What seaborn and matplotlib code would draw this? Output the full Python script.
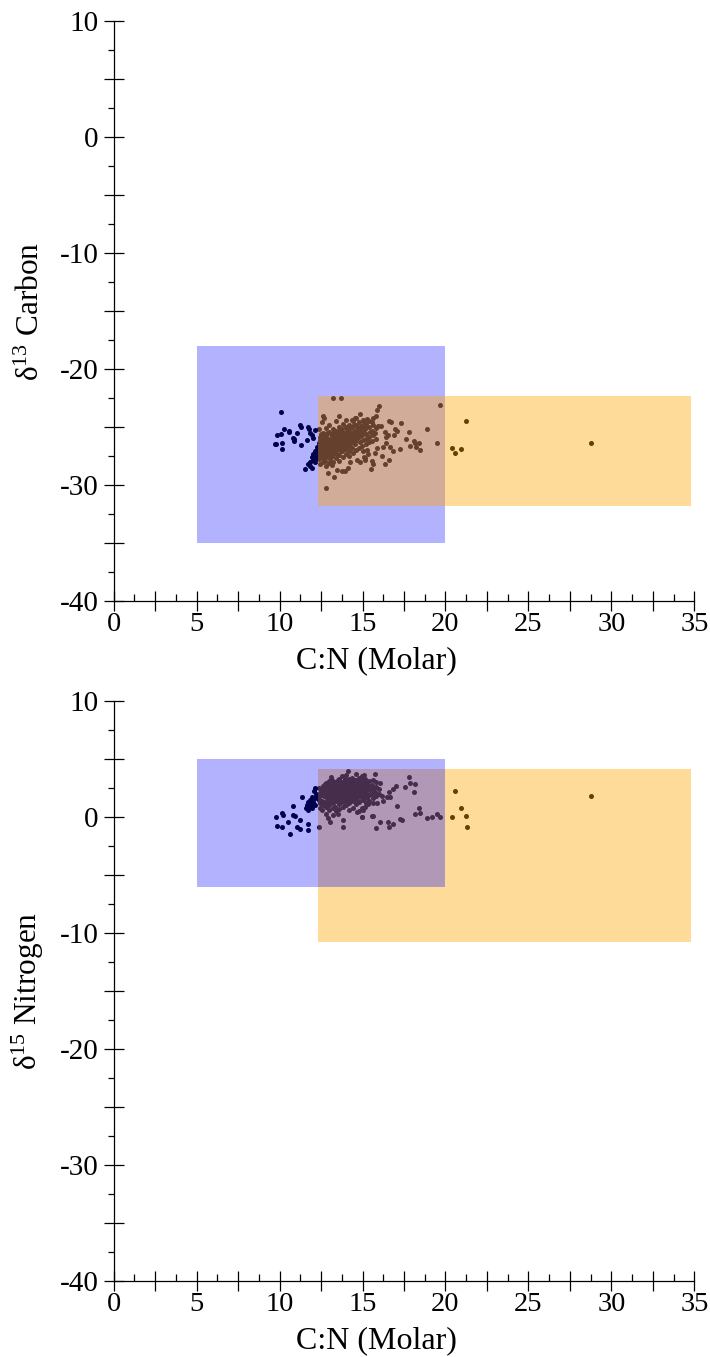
import matplotlib
matplotlib.use("Agg")
import matplotlib.pyplot as plt
from matplotlib.patches import Rectangle
from matplotlib.ticker import MultipleLocator, FuncFormatter
import seaborn as sns

# ---------------- data ----------------
# C:N ratio and d13C for every sample (upper panel)
cn_c = [
    # low C:N group
    10.09, 10.27, 9.86, 10.10, 10.55, 10.80, 10.87, 10.90, 11.07, 11.23, 11.27, 9.78,
    10.14, 10.12, 11.31, 11.69, 11.79, 11.63, 11.83, 11.97, 12.13, 12.03, 12.03, 12.13,
    12.19, 11.93, 11.83, 12.03, 11.73, 11.83, 11.93, 11.53, 12.13, 12.23, 12.23, 12.23,
    10.60, 9.72,
    # scattered samples
    13.20, 13.72, 13.58, 12.63, 12.69, 14.84, 14.34, 14.54, 15.25, 12.81, 13.30, 12.93,
    13.14, 13.44, 13.74, 13.94, 14.14, 14.24, 14.64, 14.84, 15.14, 15.34, 15.25,
    16.00, 15.89, 15.79, 15.65, 15.55, 16.61, 16.69, 17.33, 16.09, 15.95, 16.95, 17.09,
    16.35, 16.41, 17.81, 18.90, 16.87, 16.55, 17.60, 18.10, 18.16, 18.42, 17.86, 19.46,
    18.22, 18.46, 17.25, 16.85, 16.65, 16.25, 16.41, 15.85, 15.75, 16.15, 16.57, 16.35,
    15.55, 15.61, 15.51, 15.14, 15.08, 19.70, 21.23, 20.39, 20.59, 20.93, 28.78,
    # main cluster
    12.38, 12.42, 12.36, 12.45, 12.40, 12.37, 12.44, 12.41, 12.39,
    12.58, 12.62, 12.60, 12.55, 12.64, 12.59, 12.61, 12.57, 12.63,
    12.79, 12.83, 12.77, 12.81, 12.84, 12.78, 12.80, 12.82, 12.76,
    13.01, 12.97, 13.03, 12.99, 13.02, 12.98, 13.04, 13.00, 12.96,
    13.21, 13.18, 13.23, 13.19, 13.22, 13.17, 13.20, 13.24, 13.16,
    13.41, 13.38, 13.43, 13.39, 13.42, 13.37, 13.40, 13.44, 13.36,
    13.61, 13.58, 13.63, 13.59, 13.62, 13.57, 13.60, 13.64, 13.56,
    13.81, 13.78, 13.83, 13.79, 13.82, 13.77, 13.80, 13.84, 13.76,
    14.01, 13.98, 14.03, 13.99, 14.02, 13.97, 14.00, 14.04, 13.96,
    14.21, 14.18, 14.23, 14.19, 14.22, 14.17, 14.20, 14.24, 14.16,
    14.41, 14.38, 14.43, 14.39, 14.42, 14.37, 14.40, 14.44, 14.36,
    14.61, 14.58, 14.63, 14.59, 14.62, 14.57, 14.60, 14.64,
    14.81, 14.78, 14.83, 14.79, 14.82, 14.77, 14.80,
    15.01, 14.98, 15.03, 14.99, 15.02, 14.97, 15.00,
    15.21, 15.18, 15.23, 15.19, 15.22, 15.17,
    15.41, 15.38, 15.43, 15.39, 15.42,
    15.61, 15.58, 15.63, 15.59,
    15.81, 15.78, 15.83,
    12.48, 12.47, 12.49, 12.46, 12.50,
    12.68, 12.67, 12.69, 12.66, 12.70,
    12.88, 12.87, 12.89, 12.86, 12.90,
    13.08, 13.07, 13.09, 13.06, 13.10,
    13.28, 13.27, 13.29, 13.26, 13.30,
    13.48, 13.47, 13.49, 13.46, 13.50,
    13.68, 13.67, 13.69, 13.66, 13.70,
    13.88, 13.87, 13.89, 13.86,
    14.08, 14.07, 14.09, 14.06,
    14.28, 14.27, 14.29, 14.26,
    14.48, 14.47, 14.49, 14.46,
    14.68, 14.67, 14.69,
    14.88, 14.87, 14.89,
    15.08, 15.07, 15.09,
]
d13c = [
    -23.7, -25.2, -25.7, -25.6, -25.4, -25.95, -26.0, -26.2, -25.55, -24.8, -25.0, -26.5,
    -26.35, -26.9, -26.55, -25.0, -25.2, -26.1, -25.55, -25.7, -25.25, -25.95, -27.3, -27.1,
    -27.4, -27.55, -28.0, -27.85, -28.15, -28.4, -28.55, -28.6, -28.0, -27.7, -27.0, -26.7,
    -25.3, -26.5,
    -22.5, -22.5, -24.05, -24.05, -24.25, -23.9, -24.4, -24.25, -24.35, -30.3, -29.35, -29.0,
    -28.3, -28.7, -28.75, -28.75, -28.55, -28.0, -27.85, -28.0, -27.7, -27.3, -27.0,
    -23.15, -23.55, -24.05, -24.25, -24.55, -24.5, -24.6, -24.65, -24.9, -24.95, -25.2, -25.3,
    -25.45, -25.85, -25.45, -25.2, -25.7, -25.7, -26.05, -26.2, -26.4, -26.35, -26.6, -26.4,
    -26.7, -27.0, -26.9, -27.05, -26.75, -26.7, -26.35, -26.85, -27.25, -27.5, -27.85, -28.15,
    -27.9, -28.2, -28.65, -27.85, -27.55, -23.1, -24.5, -26.85, -27.2, -26.9, -26.4,
    -25.2, -25.9, -26.4, -26.9, -27.3, -27.8, -28.2, -26.1, -27.0,
    -24.6, -25.5, -26.0, -26.6, -27.1, -27.5, -28.0, -26.3, -27.7,
    -25.1, -25.8, -26.2, -26.8, -27.2, -27.6, -28.4, -26.5, -27.9,
    -24.8, -25.4, -26.0, -26.4, -26.9, -27.3, -27.8, -26.7, -28.1,
    -25.2, -25.7, -26.2, -26.6, -27.0, -27.5, -28.0, -26.4, -27.3,
    -24.5, -25.3, -25.9, -26.3, -26.8, -27.2, -27.7, -26.1, -27.0,
    -25.0, -25.6, -26.0, -26.5, -26.9, -27.4, -27.9, -26.3, -25.3,
    -24.7, -25.2, -25.8, -26.2, -26.7, -27.1, -27.6, -26.0, -26.4,
    -24.4, -25.0, -25.5, -26.0, -26.4, -26.9, -27.3, -25.7, -26.6,
    -24.8, -25.3, -25.8, -26.2, -26.6, -27.1, -27.5, -26.0, -25.5,
    -24.5, -25.0, -25.5, -25.9, -26.3, -26.8, -27.2, -25.7, -26.1,
    -24.2, -24.8, -25.3, -25.7, -26.1, -26.5, -27.0, -25.5,
    -24.6, -25.1, -25.5, -25.9, -26.3, -26.8, -25.2,
    -24.4, -24.9, -25.3, -25.7, -26.1, -26.6, -27.1,
    -24.7, -25.2, -25.6, -26.0, -26.5, -25.0,
    -24.5, -25.0, -25.4, -25.9, -26.3,
    -24.8, -25.3, -25.7, -26.2,
    -25.1, -25.5, -26.0,
    -25.6, -26.2, -26.7, -27.1, -27.6,
    -25.8, -26.4, -26.9, -27.3, -27.9,
    -25.5, -26.0, -26.6, -27.0, -27.4,
    -25.6, -26.2, -26.6, -27.1, -27.6,
    -25.4, -25.9, -26.4, -26.8, -27.2,
    -25.6, -26.1, -26.5, -27.0, -27.4,
    -25.3, -25.8, -26.2, -26.7, -27.1,
    -25.5, -25.9, -26.4, -26.9,
    -25.2, -25.7, -26.2, -26.7,
    -25.0, -25.5, -26.0, -26.4,
    -24.8, -25.3, -25.8, -26.2,
    -25.0, -25.4, -25.9,
    -24.9, -25.3, -25.7,
    -24.6, -25.1, -25.5,
]

# C:N ratio and d15N for every sample (lower panel)
cn_n = [
    # low C:N group
    12.13, 12.07, 11.93, 11.83, 11.73, 11.63, 11.59, 11.83, 12.03, 12.13, 11.33, 10.83,
    11.73, 11.93, 10.12, 10.22, 9.76, 10.83, 10.93, 10.53, 11.23, 11.73, 9.86, 10.12,
    11.07, 11.23, 11.73, 10.63, 12.03, 12.13, 12.23, 12.20, 11.90,
    # scattered samples
    14.14, 13.10, 12.73, 12.39, 13.80, 13.04, 12.93, 13.84, 13.24, 13.54, 14.95, 14.64,
    15.04, 15.75, 15.08, 17.81, 17.86, 17.55, 18.16, 17.01, 16.85, 18.10, 16.61, 16.65,
    16.45, 16.15, 16.21, 17.05, 15.65, 15.85, 15.35, 15.14, 14.95, 18.42, 18.46, 18.16,
    15.61, 14.95, 17.25, 17.35, 16.05, 16.55, 16.85, 16.59, 15.79, 18.86, 19.16, 19.46,
    19.70, 20.59, 20.93, 20.39, 21.23, 21.27, 28.78, 15.55,
    # main cluster
    12.41, 12.38, 12.43, 12.39, 12.42, 12.37,
    12.61, 12.58, 12.63, 12.59, 12.62, 12.57,
    12.81, 12.78, 12.83, 12.79, 12.82, 12.77, 12.80,
    13.01, 12.98, 13.03, 12.99, 13.02, 12.97, 13.00,
    13.21, 13.18, 13.23, 13.19, 13.22, 13.17, 13.20,
    13.41, 13.38, 13.43, 13.39, 13.42, 13.37, 13.40,
    13.61, 13.58, 13.63, 13.59, 13.62, 13.57, 13.60,
    13.81, 13.78, 13.83, 13.79, 13.82, 13.77, 13.80,
    14.01, 13.98, 14.03, 13.99, 14.02, 13.97, 14.00,
    14.21, 14.18, 14.23, 14.19, 14.22, 14.17, 14.20,
    14.41, 14.38, 14.43, 14.39, 14.42, 14.37, 14.40,
    14.61, 14.58, 14.63, 14.59, 14.62, 14.57, 14.60,
    14.81, 14.78, 14.83, 14.79, 14.82, 14.77, 14.80,
    15.01, 14.98, 15.03, 14.99, 15.02, 14.97,
    15.21, 15.18, 15.23, 15.19, 15.22, 15.17,
    15.41, 15.38, 15.43, 15.39, 15.42,
    15.61, 15.58, 15.63, 15.59, 15.62,
    15.81, 15.78, 15.83, 15.79,
    16.01, 15.98, 16.03,
    12.50, 12.49, 12.51,
    12.70, 12.69, 12.71, 12.68,
    12.90, 12.89, 12.91, 12.88,
    13.10, 13.09, 13.11, 13.08, 13.12,
    13.30, 13.29, 13.31, 13.28, 13.32,
    13.50, 13.49, 13.51, 13.48, 13.52,
    13.70, 13.69, 13.71, 13.68, 13.72,
    13.90, 13.89, 13.91, 13.88, 13.92,
    14.10, 14.09, 14.11, 14.08, 14.12,
    14.30, 14.29, 14.31, 14.28, 14.32,
    14.50, 14.49, 14.51, 14.48, 14.52,
    14.70, 14.69, 14.71, 14.68, 14.72,
    14.90, 14.89, 14.91, 14.88, 14.92,
    15.10, 15.09, 15.11, 15.08,
    15.30, 15.29, 15.31, 15.28,
]
d15n = [
    2.47, 2.24, 1.75, 1.47, 1.27, 1.03, 0.75, 0.89, 1.18, 1.61, 1.75, 0.97,
    0.60, 0.75, 0.32, 0.17, 0.03, 0.17, 0.11, -0.40, -0.26, -0.63, -0.78, -0.89,
    -0.84, -1.03, -1.12, -1.47, 1.32, 1.03, 1.75, 2.00, 1.10,
    3.97, 3.42, 2.84, -0.84, -0.84, -0.40, -0.11, -0.26, 0.17, 0.23, 0.03, 0.46,
    0.60, 3.71, 3.62, 3.45, 2.96, 2.61, 2.84, 2.70, 2.41, 2.18, 2.18, 1.75,
    1.75, 1.84, 1.38, 0.97, 1.18, 1.18, 1.09, 0.89, 0.75, 0.75, 0.32, 0.23,
    0.09, 0.00, -0.17, -0.26, -0.40, -0.46, -0.60, -0.84, -0.92, -0.06, -0.03, 0.23,
    0.03, 2.27, 0.80, 0.03, 0.09, -0.84, 1.84, 0.11,
    1.2, 1.7, 2.1, 2.5, 0.8, 1.5,
    1.0, 1.4, 1.9, 2.3, 2.7, 0.6,
    1.2, 1.7, 2.1, 2.5, 2.9, 0.9, 0.3,
    1.0, 1.5, 1.9, 2.3, 2.7, 3.1, 0.6,
    1.2, 1.6, 2.0, 2.4, 2.8, 3.2, 0.8,
    1.4, 1.8, 2.2, 2.6, 3.0, 0.9, 0.5,
    1.1, 1.6, 2.0, 2.4, 2.8, 3.3, 0.7,
    1.3, 1.8, 2.2, 2.6, 3.0, 3.5, 0.9,
    1.0, 1.5, 1.9, 2.3, 2.7, 3.1, 3.6,
    1.2, 1.7, 2.1, 2.5, 2.9, 3.3, 0.6,
    1.4, 1.8, 2.2, 2.6, 3.0, 3.4, 0.8,
    1.1, 1.6, 2.0, 2.4, 2.8, 3.2, 3.7,
    1.3, 1.8, 2.2, 2.6, 3.0, 3.4, 0.5,
    1.5, 1.9, 2.3, 2.7, 3.1, 3.5,
    1.2, 1.7, 2.1, 2.5, 2.9, 3.3,
    1.4, 1.9, 2.3, 2.7, 3.1,
    1.6, 2.0, 2.4, 2.8, 3.2,
    1.8, 2.2, 2.6, 3.0,
    2.0, 2.4, 2.9,
    1.4, 1.9, 2.3,
    1.3, 1.8, 2.2, 2.6,
    1.5, 1.9, 2.3, 2.7,
    1.3, 1.7, 2.1, 2.5, 2.9,
    1.5, 1.9, 2.3, 2.7, 3.0,
    1.6, 2.0, 2.4, 2.8, 3.2,
    1.4, 1.8, 2.2, 2.6, 3.0,
    1.6, 2.0, 2.4, 2.8, 3.3,
    1.3, 1.7, 2.1, 2.5, 2.9,
    1.5, 1.9, 2.3, 2.7, 3.1,
    1.6, 2.0, 2.4, 2.8, 3.2,
    1.4, 1.8, 2.2, 2.6, 3.0,
    1.7, 2.1, 2.5, 2.9, 3.3,
    1.8, 2.2, 2.6, 3.0,
    1.6, 2.0, 2.4, 2.8,
]

# source ranges: (C:N min, C:N max, isotope min, isotope max)
terrestrial_c = (5.0, 20.0, -35.0, -18.0)
aquatic_c = (12.3, 34.8, -31.8, -22.3)
terrestrial_n = (5.0, 20.0, -6.0, 5.0)
aquatic_n = (12.3, 34.8, -10.8, 4.1)

x_limits = (0, 35)
y_limits = (-40, 10)

# ---------------- style ----------------
sns.set_style("ticks")
plt.rcParams["font.family"] = ["Liberation Serif", "DejaVu Serif"]
plt.rcParams["mathtext.fontset"] = "custom"
plt.rcParams["mathtext.rm"] = "Liberation Serif"
plt.rcParams["mathtext.it"] = "Liberation Serif:italic"
for key in ("text.color", "axes.labelcolor", "xtick.color", "ytick.color",
            "xtick.labelcolor", "ytick.labelcolor"):
    plt.rcParams[key] = "black"

BLUE = (0.0, 0.0, 1.0)
ORANGE = (1.0, 0.647, 0.0)

fig = plt.figure(figsize=(7.10, 13.57), dpi=100)
ax_top = fig.add_axes([0.16, 0.5571, 0.818, 0.4274])
ax_bot = fig.add_axes([0.16, 0.0560, 0.818, 0.4274])


def box(ax, rng, color, alpha, z):
    x0, x1, y0, y1 = rng
    ax.add_patch(Rectangle((x0, y0), x1 - x0, y1 - y0, facecolor=color,
                           alpha=alpha, edgecolor="none", zorder=z))


def style_axes(ax, ylabel):
    ax.set_xlim(*x_limits)
    ax.set_ylim(*y_limits)
    for side in ("top", "right"):
        ax.spines[side].set_visible(False)
    for side in ("left", "bottom"):
        ax.spines[side].set_color("black")
        ax.spines[side].set_linewidth(0.9)
        ax.spines[side].set_zorder(5)
    ax.xaxis.set_major_locator(MultipleLocator(2.5))
    ax.xaxis.set_minor_locator(MultipleLocator(1.25))
    ax.yaxis.set_major_locator(MultipleLocator(5))
    ax.yaxis.set_minor_locator(MultipleLocator(2.5))
    ax.xaxis.set_major_formatter(FuncFormatter(
        lambda v, p: f"{v:.0f}" if abs(v / 5 - round(v / 5)) < 1e-6 else ""))
    ax.yaxis.set_major_formatter(FuncFormatter(
        lambda v, p: f"{v:.0f}" if abs(v / 10 - round(v / 10)) < 1e-6 else ""))
    ax.tick_params(axis="x", which="major", direction="inout", length=14,
                   width=0.9, labelsize=20.5, pad=1, color="black",
                   bottom=True, top=False)
    ax.tick_params(axis="x", which="minor", direction="in", length=5,
                   width=0.9, color="black", bottom=True, top=False)
    ax.tick_params(axis="y", which="major", direction="inout", length=14,
                   width=0.9, labelsize=21, pad=4, color="black",
                   left=True, right=False)
    ax.tick_params(axis="y", which="minor", direction="out", length=4,
                   width=0.9, color="black", left=True, right=False)
    ax.set_xlabel("C:N (Molar)", fontsize=23)
    ax.xaxis.set_label_coords(0.452, -0.078)
    ax.set_ylabel(ylabel, fontsize=22.5, labelpad=10)
    ax.set_facecolor("white")


# upper panel: carbon
sns.scatterplot(x=cn_c, y=d13c, ax=ax_top, color="black", s=13,
                linewidth=0, zorder=1, legend=False)
box(ax_top, terrestrial_c, BLUE, 0.3, 2)
box(ax_top, aquatic_c, ORANGE, 0.4, 3)
style_axes(ax_top, "δ$^{13}$ Carbon")

# lower panel: nitrogen
sns.scatterplot(x=cn_n, y=d15n, ax=ax_bot, color="black", s=13,
                linewidth=0, zorder=1, legend=False)
box(ax_bot, aquatic_n, ORANGE, 0.4, 2)
box(ax_bot, terrestrial_n, BLUE, 0.3, 3)
style_axes(ax_bot, "δ$^{15}$ Nitrogen")

fig.savefig("out.png", dpi=100)
